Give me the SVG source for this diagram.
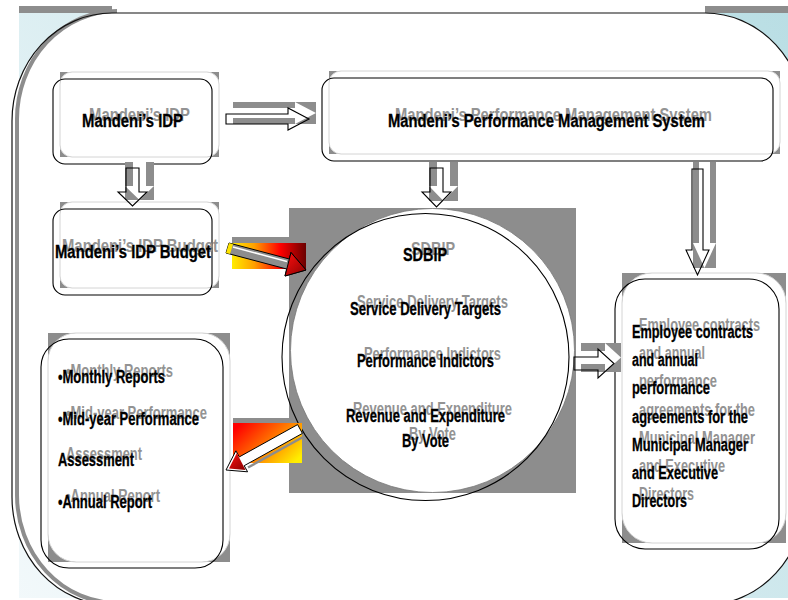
<svg xmlns="http://www.w3.org/2000/svg" width="788" height="600" viewBox="0 0 788 600">
<defs>
<linearGradient id="bg" x1="788" y1="0" x2="0" y2="600" gradientUnits="userSpaceOnUse">
<stop offset="0" stop-color="#b9dee4"/>
<stop offset="1" stop-color="#f3f9fb"/>
</linearGradient>
<linearGradient id="gF" x1="0" y1="0" x2="1" y2="0">
<stop offset="0" stop-color="#ffec00"/>
<stop offset="0.3" stop-color="#ffa000"/>
<stop offset="0.65" stop-color="#ff0000"/>
<stop offset="1" stop-color="#6a0000"/>
</linearGradient>
<linearGradient id="gG" x1="0" y1="0.2" x2="1" y2="0.8">
<stop offset="0" stop-color="#ff0000"/>
<stop offset="0.45" stop-color="#ff6a00"/>
<stop offset="1" stop-color="#ffee00"/>
</linearGradient>
<linearGradient id="gHead" x1="0" y1="0" x2="1" y2="1">
<stop offset="0" stop-color="#ff1010"/>
<stop offset="1" stop-color="#8a0000"/>
</linearGradient>
<style>
.sh{fill:#8d8d8d}
.shw{fill:#fff;stroke:#d4d4d4;stroke-width:1}
.ol{fill:none;stroke:#000;stroke-width:1.1}
.t{font-family:"Liberation Sans Narrow","Liberation Sans",Arial,sans-serif;font-weight:bold;font-size:17.5px}
.k{fill:#000;stroke:#000;stroke-width:0.3}
.g{fill:#939393}
.aw{fill:#fff}
</style>
</defs>
<rect x="0" y="0" width="788" height="600" fill="#fff"/>
<g id="frame">
<rect x="19" y="6" width="769" height="592" fill="url(#bg)"/>
<rect x="19" y="6" width="769" height="7" fill="#8d8d8d"/>
<rect x="112" y="5" width="593" height="9" fill="#fff"/>
<path d="M112,13 H705 A100,108 0 0 1 805,121 V497 A100,108 0 0 1 705,605 H112 A100,108 0 0 1 12,497 V121 A100,108 0 0 1 112,13 Z" fill="#fff"/>
<path d="M117,11 A100,108 0 0 0 17,119 V495 A100,108 0 0 0 117,603" fill="none" stroke="#8d8d8d" stroke-width="4"/>
<path d="M112,13 H705 A100,108 0 0 1 805,121 V497 A100,108 0 0 1 705,605 H112 A100,108 0 0 1 12,497 V121 A100,108 0 0 1 112,13 Z" fill="none" stroke="#111" stroke-width="1.2"/>
</g>

<g id="node-idp">
<rect class="sh" x="60" y="72" width="159" height="85"/>
<rect class="shw" x="60" y="72" width="159" height="85" rx="12"/>
<rect class="ol" x="53" y="79" width="159" height="85" rx="12"/>
<text class="t g" x="89" y="121" textLength="101" lengthAdjust="spacingAndGlyphs">Mandeni’s IDP</text>
<text class="t k" x="82" y="127" textLength="101" lengthAdjust="spacingAndGlyphs">Mandeni’s IDP</text>
</g>

<g id="node-pms">
<rect class="sh" x="329" y="71" width="451" height="83"/>
<rect class="shw" x="329" y="71" width="451" height="83" rx="12"/>
<rect class="ol" x="322" y="78" width="451" height="83" rx="12"/>
<text class="t g" x="395" y="121" textLength="317" lengthAdjust="spacingAndGlyphs">Mandeni’s Performance Management System</text>
<text class="t k" x="388" y="127" textLength="317" lengthAdjust="spacingAndGlyphs">Mandeni’s Performance Management System</text>
</g>

<g id="node-budget">
<rect class="sh" x="60" y="202" width="159" height="86"/>
<rect class="shw" x="60" y="202" width="159" height="86" rx="12"/>
<rect class="ol" x="53" y="209" width="159" height="86" rx="12"/>
<text class="t g" x="62" y="252" textLength="156" lengthAdjust="spacingAndGlyphs">Mandeni’s IDP Budget</text>
<text class="t k" x="55" y="258" textLength="156" lengthAdjust="spacingAndGlyphs">Mandeni’s IDP Budget</text>
</g>

<g id="node-reports">
<rect class="sh" x="48" y="333" width="182" height="229"/>
<rect class="shw" x="48" y="333" width="182" height="229" rx="28"/>
<rect class="ol" x="41" y="339" width="182" height="229" rx="28"/>
<text class="t g" x="66" y="377" textLength="107" lengthAdjust="spacingAndGlyphs">•Monthly Reports</text>
<text class="t g" x="66" y="419" textLength="141" lengthAdjust="spacingAndGlyphs">•Mid-year Performance</text>
<text class="t g" x="66" y="460" textLength="76" lengthAdjust="spacingAndGlyphs">Assessment</text>
<text class="t g" x="66" y="502" textLength="94" lengthAdjust="spacingAndGlyphs">•Annual Report</text>
<text class="t k" x="58" y="383" textLength="107" lengthAdjust="spacingAndGlyphs">•Monthly Reports</text>
<text class="t k" x="58" y="425" textLength="141" lengthAdjust="spacingAndGlyphs">•Mid-year Performance</text>
<text class="t k" x="58" y="466" textLength="76" lengthAdjust="spacingAndGlyphs">Assessment</text>
<text class="t k" x="58" y="508" textLength="94" lengthAdjust="spacingAndGlyphs">•Annual Report</text>
</g>

<g id="node-sdbip">
<rect class="sh" x="289" y="208" width="287" height="285"/>
<circle cx="432.5" cy="350.5" r="142" fill="#fff" stroke="#777" stroke-width="0.8"/>
<circle class="ol" cx="425.5" cy="357" r="143.5"/>
<text class="t g" x="411" y="255" textLength="44" lengthAdjust="spacingAndGlyphs">SDBIP</text>
<text class="t g" x="357" y="308" textLength="151" lengthAdjust="spacingAndGlyphs">Service Delivery Targets</text>
<text class="t g" x="364" y="360" textLength="137" lengthAdjust="spacingAndGlyphs">Performance Indictors</text>
<text class="t g" x="353" y="415" textLength="159" lengthAdjust="spacingAndGlyphs">Revenue and Expenditure</text>
<text class="t g" x="409" y="440" textLength="47" lengthAdjust="spacingAndGlyphs">By Vote</text>
<text class="t k" x="403" y="261" textLength="44" lengthAdjust="spacingAndGlyphs">SDBIP</text>
<text class="t k" x="350" y="315" textLength="151" lengthAdjust="spacingAndGlyphs">Service Delivery Targets</text>
<text class="t k" x="357" y="367" textLength="137" lengthAdjust="spacingAndGlyphs">Performance Indictors</text>
<text class="t k" x="346" y="422" textLength="159" lengthAdjust="spacingAndGlyphs">Revenue and Expenditure</text>
<text class="t k" x="402" y="447" textLength="47" lengthAdjust="spacingAndGlyphs">By Vote</text>
</g>

<g id="node-employee">
<rect class="sh" x="622" y="273" width="164" height="270"/>
<rect class="shw" x="622" y="273" width="164" height="270" rx="30"/>
<rect class="ol" x="615" y="279" width="164" height="270" rx="30"/>
<text class="t g" x="639" y="331" textLength="121" lengthAdjust="spacingAndGlyphs">Employee contracts</text>
<text class="t g" x="639" y="359" textLength="66" lengthAdjust="spacingAndGlyphs">and annual</text>
<text class="t g" x="639" y="387" textLength="78" lengthAdjust="spacingAndGlyphs">performance</text>
<text class="t g" x="639" y="416" textLength="116" lengthAdjust="spacingAndGlyphs">agreements for the</text>
<text class="t g" x="639" y="444" textLength="116" lengthAdjust="spacingAndGlyphs">Municipal Manager</text>
<text class="t g" x="639" y="472" textLength="86" lengthAdjust="spacingAndGlyphs">and Executive</text>
<text class="t g" x="639" y="500" textLength="55" lengthAdjust="spacingAndGlyphs">Directors</text>
<text class="t k" x="632" y="338" textLength="121" lengthAdjust="spacingAndGlyphs">Employee contracts</text>
<text class="t k" x="632" y="366" textLength="66" lengthAdjust="spacingAndGlyphs">and annual</text>
<text class="t k" x="632" y="394" textLength="78" lengthAdjust="spacingAndGlyphs">performance</text>
<text class="t k" x="632" y="423" textLength="116" lengthAdjust="spacingAndGlyphs">agreements for the</text>
<text class="t k" x="632" y="451" textLength="116" lengthAdjust="spacingAndGlyphs">Municipal Manager</text>
<text class="t k" x="632" y="479" textLength="86" lengthAdjust="spacingAndGlyphs">and Executive</text>
<text class="t k" x="632" y="507" textLength="55" lengthAdjust="spacingAndGlyphs">Directors</text>
</g>

<g id="connectors">
<rect class="sh" x="233" y="102" width="83" height="22"/>
<polygon class="aw" points="233,108 295,108 295,102 316,113 295,124 295,118 233,118"/>
<polygon class="ol" points="226,114 288,114 288,108 309,119 288,130 288,124 226,124"/>
<rect class="sh" x="125" y="162" width="29" height="38"/>
<polygon class="aw" points="133,162 146,162 146,186 154,186 139.5,200 125,186 133,186"/>
<polygon class="ol" points="126,168 139,168 139,192 147,192 132.5,206 118,192 126,192"/>
<rect class="sh" x="429" y="162" width="29" height="39"/>
<polygon class="aw" points="437,162 450,162 450,186 458,186 443.5,201 429,186 437,186"/>
<polygon class="ol" points="430,168 443,168 443,192 451,192 436.5,207 422,192 430,192"/>
<rect class="sh" x="693" y="162" width="23" height="106"/>
<polygon class="aw" points="699,162 710,162 710,243 716,243 704.5,268 693,243 699,243"/>
<polygon class="ol" points="692,169 703,169 703,250 709,250 697.5,275 686,250 692,250"/>
<rect class="sh" x="581" y="343" width="40" height="29"/>
<polygon class="aw" points="581,351 605,351 605,343 621,357.5 605,372 605,364 581,364"/>
<polygon class="ol" points="574,357 598,357 598,349 614,363.5 598,378 598,370 574,370"/>
<rect class="sh" x="232" y="237" width="58" height="8"/>
<rect x="232" y="243" width="74" height="26" fill="url(#gF)"/>
<polygon points="229,243 289.3,259 291,252.5 306,270 285,276 286.7,269 226,253" fill="#8d8d8d" stroke="#000" stroke-width="1"/>
<polygon points="229,243 233,244.2 230,254 226,253" fill="#ffe400"/>
<line x1="233" y1="247" x2="287" y2="261.5" stroke="#fff" stroke-width="1.5"/>
<polygon points="291,252.5 306,270 285,276" fill="url(#gHead)" stroke="#000" stroke-width="1"/>
<rect class="sh" x="233" y="418" width="57" height="6"/>
<rect x="233" y="423" width="69" height="40" fill="url(#gG)"/>
<line x1="303" y1="437" x2="248" y2="467.5" stroke="#8d8d8d" stroke-width="2.5"/>
<polygon points="297.6,424.6 239.3,456.9 235.9,450.8 226,470 247.6,471.8 244.2,465.7 302.4,433.4" fill="#fff" stroke="#000" stroke-width="1"/>
<polygon points="236.8,453 229,468.5 245.5,470" fill="url(#gHead)"/>
</g>
</svg>
